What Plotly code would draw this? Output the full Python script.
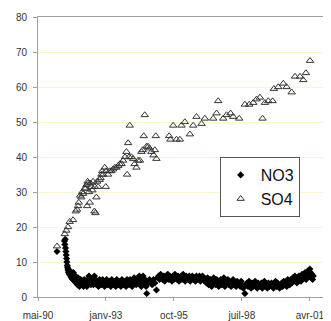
import pandas as pd
import plotly.graph_objects as go

# Dates are Excel serial day numbers (origin 1899-12-30)
no3_day = [33280,
    33390, 33395, 33400, 33405, 33410, 33415, 33420, 33425, 33430, 33435, 33440, 33445, 33450,
    33460, 33470, 33480, 33490, 33500, 33510, 33520, 33530, 33540, 33550, 33560, 33570, 33580,
    33590, 33600, 33610, 33620, 33630, 33640, 33650, 33660, 33670, 33680, 33690, 33700, 33710,
    33720, 33730, 33740, 33750, 33760, 33770, 33780, 33790, 33800, 33815, 33830, 33845, 33860,
    33875, 33890, 33905, 33920, 33935, 33950, 33965, 33980, 33995, 34010, 34025, 34040, 34055,
    34070, 34085, 34100, 34115, 34130, 34145, 34160, 34175, 34190, 34205, 34220, 34235, 34250,
    34265, 34280, 34295, 34310, 34325, 34340, 34355, 34370, 34385, 34400, 34415, 34430, 34445,
    34460, 34475, 34490, 34505, 34520, 34530, 34545, 34560, 34575, 34590, 34600, 34620, 34640,
    34660, 34680, 34700, 34720, 34743, 34760, 34775, 34790, 34805, 34820, 34835, 34850, 34865,
    34880, 34895, 34910, 34925, 34940, 34955, 34970, 34985, 35000, 35015, 35030, 35045, 35060,
    35075, 35090, 35105, 35120, 35135, 35150, 35165, 35180, 35195, 35210, 35225, 35240, 35255,
    35270, 35285, 35300, 35315, 35330, 35345, 35360, 35375, 35390, 35405, 35420, 35435, 35450,
    35465, 35480, 35495, 35510, 35525, 35540, 35555, 35570, 35585, 35600, 35615, 35630, 35645,
    35660, 35675, 35690, 35705, 35720, 35735, 35750, 35765, 35780, 35795, 35810, 35825, 35840,
    35855, 35870, 35885, 35900, 35915, 35930, 35945, 35960, 35975, 35990, 36005, 36020, 36044,
    36060, 36075, 36090, 36105, 36120, 36135, 36150, 36165, 36180, 36195, 36210, 36225, 36240,
    36255, 36270, 36285, 36300, 36315, 36330, 36345, 36360, 36375, 36390, 36405, 36420, 36435,
    36450, 36465, 36480, 36495, 36510, 36525, 36540, 36555, 36570, 36585, 36600, 36615, 36630,
    36645, 36660, 36675, 36690, 36705, 36720, 36735, 36750, 36765, 36780, 36795, 36810, 36825,
    36840, 36855, 36870, 36885, 36900, 36915, 36930, 36945, 36960, 36975, 36990, 37000, 37010,
    37020, 37030, 37040, 37050]
no3_val = [13,
    16, 15, 16.5, 14, 13, 12, 11, 10, 9, 8.5, 8, 7.5, 7,
    6.5, 7.5, 6, 5.5, 6.5, 5, 7, 5, 4.5, 6, 4, 5, 3.5,
    5.5, 4, 3, 4.5, 5, 3.5, 4, 4.5, 3, 5, 4, 3.5, 4.5,
    3, 5, 4, 6, 5, 4, 3.5, 5, 4.5, 3.5, 6, 5, 3.5,
    4.5, 3, 5, 4, 3.5, 5, 4, 3, 4.5, 5, 3.5, 4, 4.5,
    3, 5, 4, 3.5, 4.5, 3, 5, 4, 3.5, 4.5, 3, 5, 4,
    3.5, 4.5, 3, 5, 4.5, 3.5, 5, 4, 3, 4.5, 5.5, 4, 3.5,
    5, 4, 6, 4.5, 3, 5.5, 6, 4, 5, 3, 1, 4, 5,
    4.5, 3.5, 5, 4, 2, 5.5, 6, 5, 6.5, 5.5, 5, 6, 4.5,
    6, 5.5, 6.5, 5, 6, 5.5, 4.5, 6, 5, 6.5, 5.5, 5, 6,
    4.5, 5.5, 6, 5, 6.5, 5, 4.5, 6, 5.5, 5, 6, 4.5, 5.5,
    6, 5, 5.5, 4.5, 6, 5, 5.5, 6, 4.5, 5, 6, 5.5, 4.5,
    5, 4, 5.5, 3.5, 4.5, 5, 3, 4, 5.5, 4.5, 3.5, 5, 4,
    3, 4.5, 5, 3.5, 4, 5.5, 3, 4.5, 4, 5, 3.5, 4, 3,
    4.5, 5, 3.5, 4, 3, 4.5, 3.5, 4, 3, 4.5, 3.5, 2.5, 1,
    3.5, 4, 3, 4.5, 3.5, 2.5, 4, 3, 3.5, 4.5, 3, 2.5, 4,
    3.5, 3, 4, 2.5, 3.5, 4.5, 3, 3.5, 2.5, 4, 3, 3.5, 4,
    3, 2.5, 3.5, 4.5, 3, 4, 3.5, 2.5, 3.5, 4, 3, 4.5, 3.5,
    4, 3, 5, 4.5, 3.5, 5, 4, 5.5, 4.5, 6, 5, 4, 5.5,
    6, 5, 4.5, 6.5, 5.5, 6, 7, 5, 6.5, 7.5, 6, 8, 7,
    5.5, 6.5, 5, 6]

so4_day = [33280, 33393, 33417, 33442, 33466, 33516, 33555, 33574, 33589, 33600,
    33620, 33638, 33650, 33663, 33687, 33700, 33712, 33722, 33730, 33737,
    33751, 33761, 33770, 33786, 33800, 33810, 33830, 33835, 33845, 33859,
    33870, 33884, 33908, 33920, 33933, 33945, 33957, 33982, 33997, 34000,
    34031, 34056, 34080, 34105, 34130, 34154, 34180, 34203, 34230, 34252,
    34280, 34301, 34311, 34326, 34340, 34350, 34375, 34399, 34420, 34448,
    34473, 34500, 34522, 34540, 34556, 34571, 34596, 34620, 34640, 34669,
    34700, 34719, 34733, 34743, 34930, 34949, 34989, 35038, 35087, 35111,
    35160, 35234, 35283, 35332, 35406, 35455, 35578, 35627, 35651, 35725,
    35774, 35833, 35872, 35961, 36044, 36108, 36167, 36216, 36265, 36304,
    36339, 36388, 36452, 36471, 36535, 36609, 36658, 36732, 36781, 36854,
    36903, 36942, 37002]
so4_val = [14.5, 18, 19, 20, 21.5, 22, 24.5, 25, 26, 27,
    29, 28.5, 30, 29.5, 31, 31, 32, 26, 33, 32.5,
    30, 27, 32.5, 31.5, 30.5, 33, 24.5, 31.5, 24, 28.5,
    33, 31.5, 33.5, 34, 35, 36, 35, 37, 31.5, 36,
    35, 36, 36, 36.5, 37, 37, 37.5, 38, 38, 39,
    40, 41.5, 35, 44, 40, 49, 40, 39.5, 38, 37,
    39, 39, 41.5, 42, 46, 52, 43, 43, 42.5, 41.5,
    40.5, 42, 46, 39.5, 46, 45, 49, 45, 45, 49,
    50, 46.5, 49, 51.5, 49.5, 51, 51, 52.5, 56, 51,
    52, 52.5, 51.5, 51, 55, 55, 55.5, 56.5, 57, 51,
    55.5, 56, 56, 59.5, 60, 61, 60, 58.5, 63, 63,
    62, 64, 67.5]

tick_days = [33000, 34000, 35000, 36000, 37000]
tick_text = ["mai-90", "janv-93", "oct-95", "juil-98", "avr-01"]
y_ticks = [0, 10, 20, 30, 40, 50, 60, 70, 80]


def to_date(days):
    return pd.to_datetime(days, unit="D", origin="1899-12-30")


fig = go.Figure()
fig.add_trace(go.Scatter(
    x=to_date(no3_day), y=no3_val, mode="markers", name="NO3",
    marker=dict(symbol="diamond", size=5.5, color="black", line=dict(width=0)),
))
fig.add_trace(go.Scatter(
    x=to_date(so4_day), y=so4_val, mode="markers", name="SO4",
    marker=dict(symbol="triangle-up-open", size=6.5, color="#333333", line=dict(width=1)),
))

fig.update_layout(
    width=323, height=313,
    margin=dict(l=30, r=0, t=9, b=24),
    paper_bgcolor="white", plot_bgcolor="white",
    font=dict(family="Liberation Sans, Arial, sans-serif", size=10, color="#333333"),
    showlegend=True,
    legend=dict(
        x=0.62, y=0.5, xanchor="left", yanchor="top",
        bgcolor="white", bordercolor="#555555", borderwidth=1,
        font=dict(size=16, color="#111111"),
        tracegroupgap=0, itemwidth=30,
    ),
    xaxis=dict(
        type="date",
        range=[to_date([33000])[0], to_date([37311])[0]],
        tickvals=to_date(tick_days), ticktext=tick_text,
        showgrid=False, showline=True, linecolor="#a0a0a0", linewidth=1,
        mirror=True, ticks="outside", ticklen=3, tickcolor="#a0a0a0",
        tickfont=dict(size=10, color="#333333"),
        ticklabelstandoff=6,
        zeroline=False,
    ),
    yaxis=dict(
        range=[0, 80], tickvals=y_ticks,
        showgrid=True, gridcolor="#f8f8cc", gridwidth=1,
        showline=True, linecolor="#a0a0a0", linewidth=1,
        ticks="outside", ticklen=4, tickcolor="#a0a0a0",
        tickfont=dict(size=10, color="#333333"),
        ticklabelstandoff=4,
        zeroline=False,
    ),
)

fig.write_html("out.html")
